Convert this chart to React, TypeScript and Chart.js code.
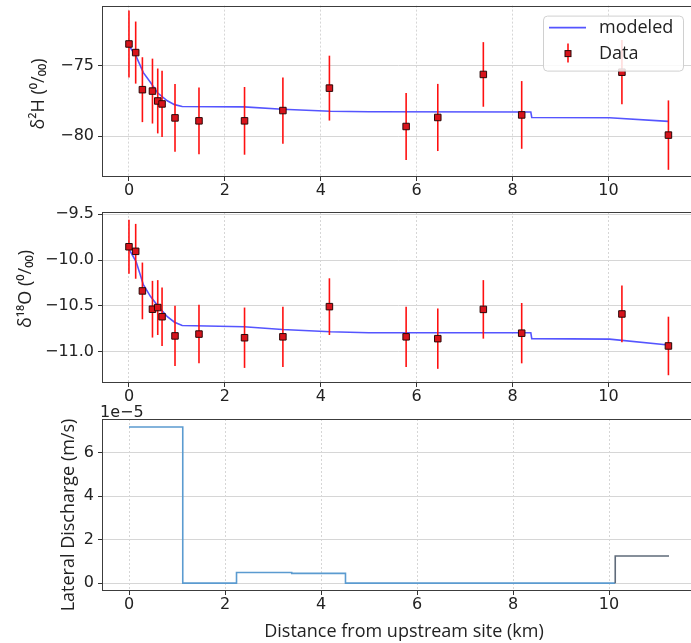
import React, { useEffect, useRef } from 'react';
import { Chart, registerables } from 'chart.js';

Chart.register(...registerables);

// ---------- data ----------
const distKm = [0, 0.14, 0.28, 0.49, 0.6, 0.69, 0.96, 1.46, 2.41, 3.21, 4.18, 5.78, 6.44, 7.39, 8.19, 10.28, 11.25];
const d2H = [-73.47, -74.08, -76.71, -76.81, -77.51, -77.72, -78.71, -78.92, -78.92, -78.19, -76.6, -79.32, -78.68, -75.63, -78.5, -75.47, -79.93];
const d2HErr = [2.37, 2.2, 2.3, 2.3, 2.3, 2.35, 2.4, 2.37, 2.4, 2.35, 2.3, 2.37, 2.38, 2.29, 2.4, 2.28, 2.46];
const d18O = [-9.855, -9.905, -10.338, -10.538, -10.52, -10.62, -10.83, -10.81, -10.85, -10.84, -10.51, -10.84, -10.86, -10.54, -10.8, -10.59, -10.94];
const d18OErr = [0.295, 0.3, 0.31, 0.31, 0.3, 0.32, 0.33, 0.32, 0.33, 0.33, 0.31, 0.33, 0.33, 0.32, 0.33, 0.31, 0.32];

const modelKm = [0, 0.15, 0.3, 0.45, 0.6, 0.8, 0.95, 1.11, 2.4, 3.2, 4.2, 5.0, 8.38, 8.4, 10.02, 11.25];
const model2H = [-73.6, -74.35, -75.5, -76.2, -76.95, -77.5, -77.77, -77.9, -77.93, -78.1, -78.24, -78.27, -78.29, -78.68, -78.7, -78.96];
const model18O = [-9.88, -10.02, -10.27, -10.4, -10.5, -10.62, -10.68, -10.716, -10.73, -10.76, -10.785, -10.795, -10.795, -10.86, -10.865, -10.93];

// lateral discharge, units of 1e-5 m/s (value held from each distance to the next)
const stepKm = [0, 1.12, 2.24, 3.39, 4.51, 10.13, 10.13, 11.25];
const dischargeE5 = [7.18, 0, 0.49, 0.45, 0, 0, 1.25, 1.25];

const xTicks = [0, 2, 4, 6, 8, 10];
const hTicks = [-80, -75];
const oTicks = [-11.0, -10.5, -10.0, -9.5];
const qTicks = [0, 2, 4, 6];

const xTitle = 'Distance from upstream site (km)';
const hTitle = 'δ²H (⁰/₀₀)';
const oTitle = 'δ¹⁸O (⁰/₀₀)';
const qTitle = 'Lateral Discharge (m/s)';
const qExponent = '1e\u22125';

// ---------- styling ----------
const TICK_FONT = '"DejaVu Sans", sans-serif';
const TITLE_FONT = '"Open Sans", sans-serif';
const MODEL_COLOR = '#5555ff';
const POINT_FILL = '#d8141c';
const ERR_COLOR = '#ff1010';
const STEP_BLUE = '#5b9bd0';
const STEP_GRAY = '#5f6b7a';
const GRID = '#d6d6d6';
const CANVAS_W = 696;
const TARGET_RIGHT = 695.5;
const Y_AXIS_W = 102;

const xRange = (() => {
  const lo = Math.min(...distKm), hi = Math.max(...distKm);
  const m = (hi - lo) * 0.05;
  return [lo - m, hi + m];
})();

const fmtMinus = (s: string) => s.replace('-', '\u2212');

function zeroPad(s: any) {
  s.paddingTop = 0;
  s.paddingBottom = 0;
  s.paddingLeft = 0;
  s.paddingRight = 0;
}

function framePlugin() {
  return {
    id: 'frame',
    afterDatasetsDraw(chart: any) {
      const { ctx, chartArea: a } = chart;
      ctx.save();
      ctx.strokeStyle = '#3c3c3c';
      ctx.lineWidth = 1;
      ctx.strokeRect(Math.round(a.left) + 0.5, Math.round(a.top) + 0.5, Math.round(a.right - a.left) - 1, Math.round(a.bottom - a.top) - 1);
      ctx.restore();
    },
  };
}

function errorBarPlugin(errors: number[]) {
  return {
    id: 'errbars',
    beforeDatasetDraw(chart: any, args: any) {
      const ds = chart.data.datasets[args.index];
      if (ds.label !== 'Data') return;
      const { ctx } = chart;
      const xs = chart.scales.x, ys = chart.scales.y;
      ctx.save();
      ctx.strokeStyle = ERR_COLOR;
      ctx.lineWidth = 1.6;
      ds.data.forEach((p: any, i: number) => {
        const e = errors[i];
        const px = xs.getPixelForValue(p.x);
        ctx.beginPath();
        ctx.moveTo(px, ys.getPixelForValue(p.y - e));
        ctx.lineTo(px, ys.getPixelForValue(p.y + e));
        ctx.stroke();
      });
      ctx.restore();
    },
  };
}

function yTitlePlugin(text: string, cx: number, cy: number) {
  return {
    id: 'ytitle',
    afterDraw(chart: any) {
      const { ctx } = chart;
      ctx.save();
      ctx.translate(cx, cy);
      ctx.rotate(-Math.PI / 2);
      ctx.font = `18px ${TITLE_FONT}`;
      ctx.fillStyle = '#222';
      ctx.textAlign = 'center';
      ctx.textBaseline = 'middle';
      ctx.fillText(text, 0, 0);
      ctx.restore();
    },
  };
}

function xTitlePlugin(text: string, cx: number, cy: number) {
  return {
    id: 'xtitle',
    afterDraw(chart: any) {
      const { ctx } = chart;
      ctx.save();
      ctx.font = `18px ${TITLE_FONT}`;
      ctx.fillStyle = '#222';
      ctx.textAlign = 'center';
      ctx.textBaseline = 'middle';
      ctx.fillText(text, cx, cy);
      ctx.restore();
    },
  };
}

function exponentPlugin(text: string) {
  return {
    id: 'exponent',
    afterDraw(chart: any) {
      const { ctx, chartArea: a } = chart;
      ctx.save();
      ctx.font = `16px ${TICK_FONT}`;
      ctx.fillStyle = '#222';
      ctx.textAlign = 'left';
      ctx.textBaseline = 'alphabetic';
      ctx.fillText(text, a.left - 2, a.top - 2);
      ctx.restore();
    },
  };
}

function legendPlugin() {
  return {
    id: 'customLegend',
    afterDraw(chart: any) {
      const { ctx, chartArea: a } = chart;
      const left = 543;
      const right = 683;
      const top = a.top + 10;
      const h = 55;
      ctx.save();
      ctx.fillStyle = 'rgba(255,255,255,0.85)';
      ctx.strokeStyle = '#d0d0d0';
      ctx.lineWidth = 1;
      ctx.beginPath();
      (ctx as any).roundRect(left + 0.5, top + 0.5, right - left, h, 4);
      ctx.fill();
      ctx.stroke();
      const y1 = top + 12;
      ctx.strokeStyle = MODEL_COLOR;
      ctx.lineWidth = 1.6;
      ctx.beginPath();
      ctx.moveTo(left + 6, y1);
      ctx.lineTo(left + 43, y1);
      ctx.stroke();
      const y2 = top + 38;
      const mx = left + 25;
      ctx.strokeStyle = ERR_COLOR;
      ctx.beginPath();
      ctx.moveTo(mx, y2 - 10);
      ctx.lineTo(mx, y2 + 9);
      ctx.stroke();
      ctx.fillStyle = POINT_FILL;
      ctx.strokeStyle = '#2a0808';
      ctx.lineWidth = 1;
      ctx.fillRect(mx - 3, y2 - 3, 6, 6);
      ctx.strokeRect(mx - 3, y2 - 3, 6, 6);
      ctx.fillStyle = '#222';
      ctx.font = `18px ${TITLE_FONT}`;
      ctx.textAlign = 'left';
      ctx.textBaseline = 'middle';
      ctx.fillText('modeled', left + 56, y1);
      ctx.fillText('Data', left + 56, y2);
      ctx.restore();
    },
  };
}

function xScale(axisHeight: number) {
  return {
    type: 'linear' as const,
    min: xRange[0],
    max: xRange[1],
    afterBuildTicks: (s: any) => { s.ticks = xTicks.map((v) => ({ value: v })); },
    afterFit: (s: any) => { s.height = axisHeight; zeroPad(s); },
    grid: { color: GRID, lineWidth: 1, drawTicks: true, tickLength: 4, tickColor: '#333', tickBorderDash: [] },
    border: { display: false, dash: [2, 2] },
    ticks: {
      font: { family: TICK_FONT, size: 16 },
      color: '#222',
      padding: 0,
      maxRotation: 0,
      autoSkip: false,
      callback: (v: any) => String(v),
    },
  };
}

function yScale(min: number, max: number, ticks: number[], fmt: (v: number) => string) {
  return {
    type: 'linear' as const,
    min,
    max,
    afterBuildTicks: (s: any) => { s.ticks = ticks.map((v) => ({ value: v })); },
    afterFit: (s: any) => { s.width = Y_AXIS_W; zeroPad(s); },
    grid: { color: GRID, lineWidth: 1, drawTicks: true, tickLength: 4, tickColor: '#333' },
    border: { display: false },
    ticks: {
      font: { family: TICK_FONT, size: 16 },
      color: '#222',
      padding: 4,
      autoSkip: false,
      callback: (v: any) => fmt(Number(v)),
    },
  };
}

function useChart(ref: React.RefObject<HTMLCanvasElement>, build: () => any) {
  useEffect(() => {
    const canvas = ref.current;
    if (!canvas) return;
    let chart = new Chart(canvas, build());
    const dr = TARGET_RIGHT - chart.chartArea.right;
    if (Math.abs(dr) > 0.5) {
      const w = Math.round(canvas.width + dr);
      chart.destroy();
      canvas.width = w;
      canvas.style.width = w + 'px';
      chart = new Chart(canvas, build());
    }
    return () => chart.destroy();
  }, []);
}

function isotopeConfig(
  values: number[],
  errors: number[],
  model: number[],
  yMin: number,
  yMax: number,
  ticks: number[],
  fmt: (v: number) => string,
  padTop: number,
  axisH: number,
  title: string,
  titleX: number,
  titleY: number,
  withLegend: boolean,
) {
  const plugins: any[] = [errorBarPlugin(errors), framePlugin(), yTitlePlugin(title, titleX, titleY)];
  if (withLegend) plugins.push(legendPlugin());
  return {
    type: 'line' as const,
    data: {
      datasets: [
        {
          label: 'Data',
          data: distKm.map((x, i) => ({ x, y: values[i] })),
          showLine: false,
          pointStyle: 'rect',
          pointRadius: 4.6,
          pointBackgroundColor: POINT_FILL,
          pointBorderColor: '#2a0808',
          pointBorderWidth: 1,
          order: 0,
        },
        {
          label: 'modeled',
          data: modelKm.map((x, i) => ({ x, y: model[i] })),
          borderColor: MODEL_COLOR,
          borderWidth: 1.6,
          pointRadius: 0,
          tension: 0,
          fill: false,
          order: 1,
        },
      ],
    },
    options: {
      animation: false as const,
      responsive: false,
      events: [],
      layout: { padding: { top: padTop, left: 0, right: 0, bottom: 0 } },
      plugins: { legend: { display: false }, tooltip: { enabled: false } },
      scales: { x: xScale(axisH), y: yScale(yMin, yMax, ticks, fmt) },
    },
    plugins,
  };
}

export default function App() {
  const r1 = useRef<HTMLCanvasElement>(null);
  const r2 = useRef<HTMLCanvasElement>(null);
  const r3 = useRef<HTMLCanvasElement>(null);

  useChart(r1, () =>
    isotopeConfig(d2H, d2HErr, model2H, -82.9, -70.75, hTicks, (v) => fmtMinus(String(v)), 5, 28, hTitle, 39, 94, true),
  );
  useChart(r2, () =>
    isotopeConfig(d18O, d18OErr, model18O, -11.345, -9.475, oTicks, (v) => fmtMinus(v.toFixed(1)), 7, 22, oTitle, 26, 84, false),
  );
  useChart(r3, () => ({
    type: 'line' as const,
    data: {
      datasets: [
        {
          label: 'Lateral Discharge',
          data: stepKm.map((x, i) => ({ x, y: dischargeE5[i] })),
          stepped: 'before',
          borderWidth: 1.6,
          borderColor: STEP_BLUE,
          pointRadius: 0,
          fill: false,
          segment: {
            borderColor: (c: any) => (c.p0.parsed.x >= 10 ? STEP_GRAY : STEP_BLUE),
          },
        },
      ],
    },
    options: {
      animation: false as const,
      responsive: false,
      events: [],
      layout: { padding: { top: 14, left: 0, right: 0, bottom: 0 } },
      plugins: { legend: { display: false }, tooltip: { enabled: false } },
      scales: { x: xScale(52), y: yScale(-0.36, 7.55, qTicks, (v) => String(v)) },
    },
    plugins: [framePlugin(), yTitlePlugin(qTitle, 69, 110), xTitlePlugin(xTitle, 404, 227), exponentPlugin(qExponent)],
  }));

  return (
    <div style={{ position: 'absolute', left: 0, top: 0, width: 691, height: 643, overflow: 'hidden', background: '#fff' }}>
      <canvas ref={r1} width={CANVAS_W} height={205} style={{ position: 'absolute', left: 0, top: 0 }} />
      <canvas ref={r2} width={CANVAS_W} height={200} style={{ position: 'absolute', left: 0, top: 205 }} />
      <canvas ref={r3} width={CANVAS_W} height={238} style={{ position: 'absolute', left: 0, top: 405 }} />
    </div>
  );
}
